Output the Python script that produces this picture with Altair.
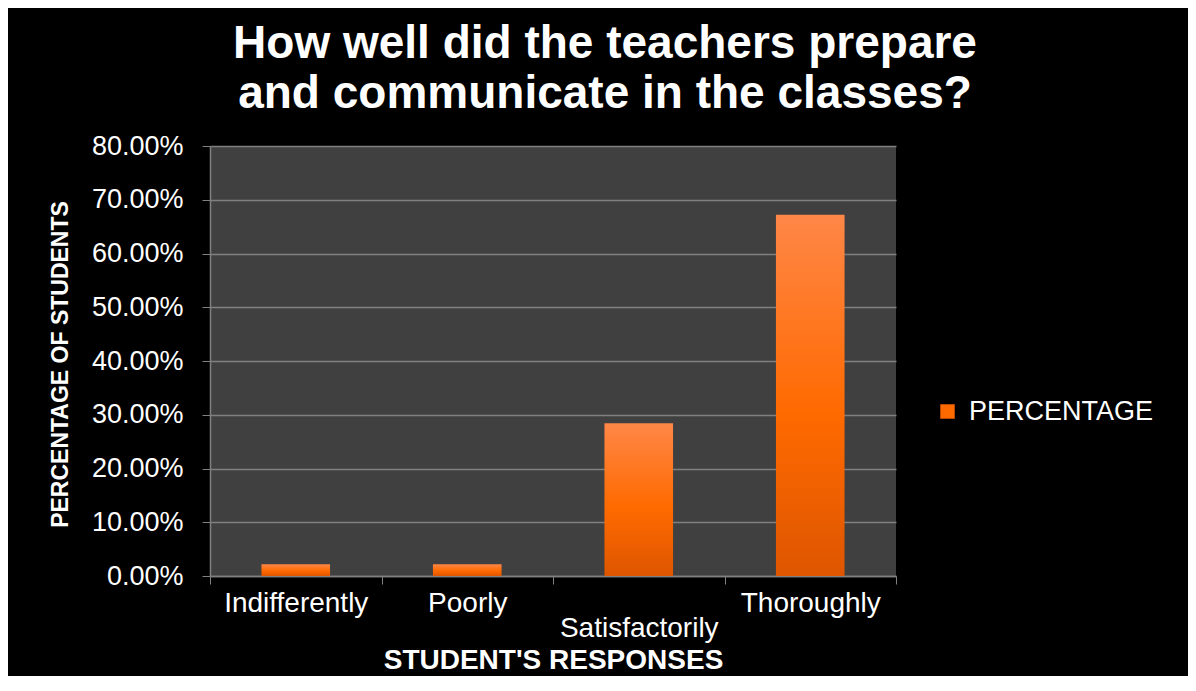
import altair as alt
import pandas as pd

categories = ["Indifferently", "Poorly", "Satisfactorily", "Thoroughly"]
percentages = [0.022, 0.022, 0.284, 0.672]
series_name = ["PERCENTAGE"] * 4

df = pd.DataFrame({"response": categories, "pct": percentages, "series": series_name})

FONT = "Liberation Sans"

gradient = {
    "gradient": "linear",
    "x1": 0, "y1": 0, "x2": 0, "y2": 1,
    "stops": [
        {"offset": 0, "color": "#ff8747"},
        {"offset": 0.55, "color": "#ff6a00"},
        {"offset": 1, "color": "#de5600"},
    ],
}

x_enc = alt.X(
    "response:N",
    sort=categories,
    scale=alt.Scale(paddingInner=0, paddingOuter=0),
    axis=alt.Axis(
        title="STUDENT'S RESPONSES",
        titleFont=FONT, titleFontSize=28, titleFontWeight="bold", titleColor="white",
        titleX=343, titleY=92, titleBaseline="alphabetic", titleAlign="center",
        labelFont=FONT, labelFontSize=28, labelColor="white", labelAngle=0,
        labelPadding=5, labelLineHeight=25,
        labelExpr="datum.value == 'Satisfactorily' ? ['', datum.value] : datum.value",
        tickBand="extent", tickSize=8, tickColor="#808080",
        domainColor="#808080", domainWidth=1.5, grid=False,
    ),
)
y_enc = alt.Y(
    "pct:Q",
    scale=alt.Scale(domain=[0, 0.8]),
    axis=alt.Axis(
        title="PERCENTAGE OF STUDENTS",
        titleFont=FONT, titleFontSize=23, titleFontWeight="bold", titleColor="white",
        titleX=-150, titleY=218, titleAngle=-90, titleBaseline="middle", titleAlign="center",
        format=".2%", values=[0, 0.1, 0.2, 0.3, 0.4, 0.5, 0.6, 0.7, 0.8],
        labelFont=FONT, labelFontSize=27, labelColor="white", labelPadding=19,
        tickSize=8, tickColor="#808080", domainColor="#808080", domainWidth=1.5,
        grid=True, gridColor="#808080", gridWidth=1.5,
    ),
)

bars = alt.Chart(df).mark_bar(color=gradient, width=alt.RelativeBandSize(0.4)).encode(
    x=x_enc, y=y_enc
)

legend_layer = alt.Chart(df).mark_bar(opacity=0, width=alt.RelativeBandSize(0.4)).encode(
    x=alt.X("response:N", sort=categories),
    y=alt.Y("pct:Q"),
    color=alt.Color(
        "series:N",
        scale=alt.Scale(range=["#ff6a00"]),
        legend=alt.Legend(
            title=None, orient="none", legendX=724, legendY=252,
            symbolType="square", symbolSize=196, symbolOpacity=1,
            symbolStrokeColor="#b84800", symbolStrokeWidth=1,
            labelFont=FONT, labelFontSize=27, labelColor="white", labelOffset=8,
            labelLimit=400, padding=0,
        ),
    ),
)

chart = (
    alt.layer(bars, legend_layer)
    .properties(
        width=686,
        height=430,
        autosize=alt.AutoSizeParams(type="none"),
        padding={"left": 202, "top": 138, "right": 292, "bottom": 100},
        background="black",
        title=alt.TitleParams(
            text=["How well did the teachers prepare", "and communicate in the classes?"],
            font=FONT, fontSize=46, fontWeight="bold", color="white",
            lineHeight=50, anchor="middle", frame="group", dx=52, offset=14,
        ),
    )
    .configure_view(fill="#404040", strokeWidth=0)
)

chart.save("out.html", embed_options={"renderer": "svg", "actions": False})
